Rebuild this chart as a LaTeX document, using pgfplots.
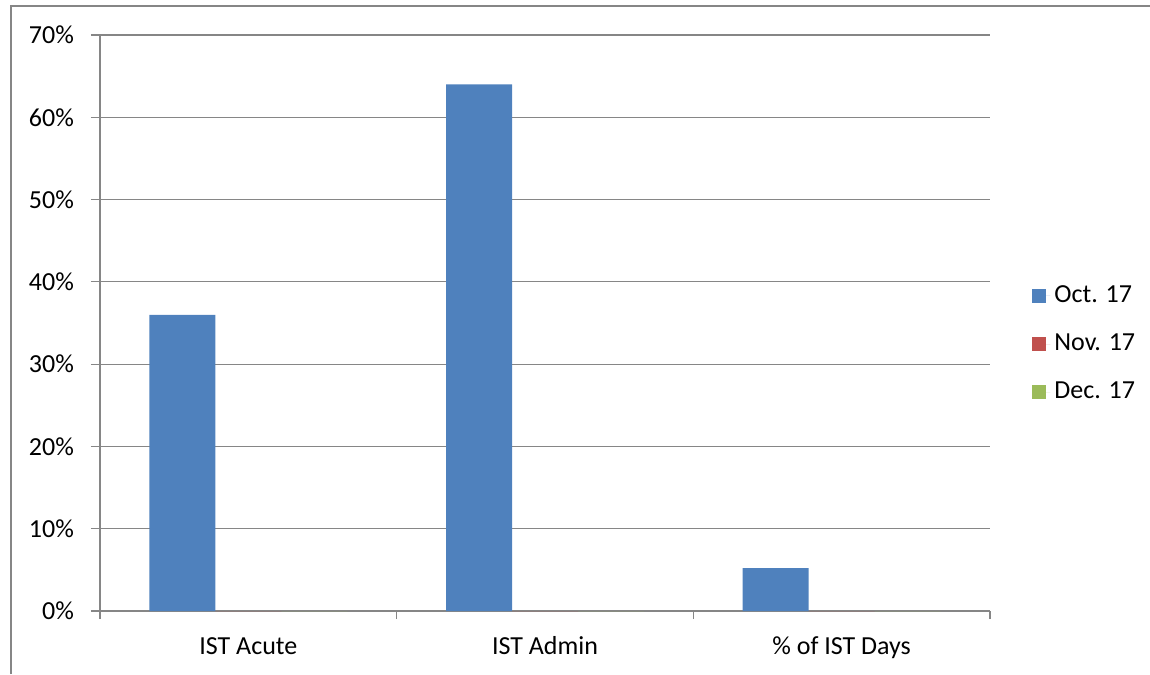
\documentclass[border=0pt]{standalone}
\usepackage{fontspec}
\setmainfont{Carlito}
\usepackage{pgfplots}
\pgfplotsset{compat=1.18}
\definecolor{oct}{HTML}{4F81BD}
\definecolor{nov}{HTML}{C0504D}
\definecolor{dec}{HTML}{9BBB59}
\definecolor{gridc}{HTML}{868686}
\pgfplotsset{sq legend/.style={legend image code/.code={\fill[##1] (0pt,-3.5pt) rectangle (7pt,3.5pt); \path (0pt,0pt) -- (9pt,0pt);}}}
\begin{document}
\fontsize{13}{15.6}\selectfont
\begin{tikzpicture}
\useasboundingbox (-50pt,-31.5pt) rectangle (525pt,305.5pt);
\draw[gridc, line width=0.9pt] (-44.5pt,-31.5pt) -- (-44.5pt,302.5pt) -- (525pt,302.5pt);
\begin{axis}[
  at={(0,0)}, anchor=south west,
  scale only axis, width=445pt, height=288pt,
  ybar=0pt, bar width=33pt,
  xmin=-0.5, xmax=2.5, ymin=0, ymax=70,
  xtick={0,1,2},
  xticklabels={IST Acute, IST Admin, \% of IST Days},
  minor xtick={-0.5,0.5,1.5,2.5},
  ytick={0,10,...,70},
  yticklabel={\pgfmathprintnumber{\tick}\%},
  /pgf/number format/assume math mode=true,
  tick align=outside,
  major tick length=4.5pt,
  minor tick length=4pt,
  xtick style={draw=none},
  minor x tick style={draw=gridc, line width=0.6pt},
  y tick style={draw=gridc, line width=0.6pt},
  ymajorgrids,
  grid style={gridc, line width=0.6pt},
  axis x line*=bottom, axis y line*=left,
  axis line style={gridc, line width=0.6pt, -},
  tick label style={font=\fontsize{13}{15.6}\selectfont, black},
  yticklabel style={xshift=-4pt},
  xticklabel style={anchor=base, yshift=-17pt},
  legend style={draw=none, fill=none, at={(1,0.5)}, anchor=west, xshift=21pt, yshift=-10.5pt,
    font=\fontsize{13}{15.6}\selectfont, row sep=9.75pt, inner sep=0pt,
    nodes={inner sep=2pt}},
  legend cell align=left,
]
\addplot[fill=oct, draw=none, sq legend] coordinates {(0,36) (1,64) (2,5.2)};
\addplot[fill=nov, draw=none, sq legend] coordinates {(0,0) (1,0) (2,0)};
\addplot[fill=dec, draw=none, sq legend] coordinates {(0,0) (1,0) (2,0)};
\legend{Oct. 17, Nov. 17, Dec. 17}
\end{axis}
\end{tikzpicture}
\end{document}
